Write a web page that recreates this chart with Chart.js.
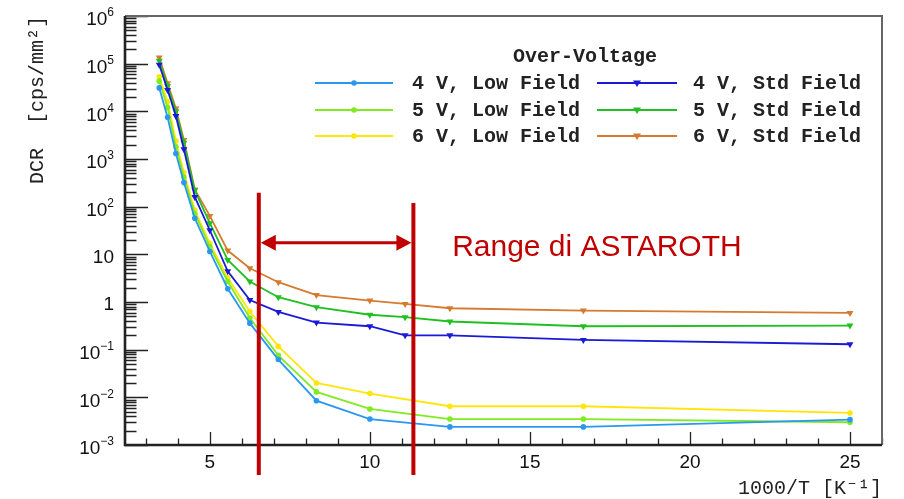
<!DOCTYPE html>
<html>
<head>
    <title>DCR vs 1000/T</title>
    <script src="https://cdn.jsdelivr.net/npm/chart.js"></script>
    <style>
        html, body { margin: 0; padding: 0; background: #fff; }
    </style>
</head>
<body>
<canvas id="dcrChart" width="904" height="499"></canvas>
<script>
// 1000/T [K^-1] of the measured points
var xStd = [3.42, 3.68, 3.94, 4.19, 4.53, 5.0, 5.56, 6.25, 7.14, 8.33, 10.0, 11.1, 12.5, 16.67, 25.0];
var xLow = [3.42, 3.68, 3.94, 4.19, 4.53, 5.0, 5.56, 6.25, 7.14, 8.33, 10.0, 12.5, 16.67, 25.0];

// DCR [cps/mm^2]
var dcr4VLow = [3.1e4, 7.5e3, 1.3e3, 320, 57, 11.5, 1.9, 0.36, 0.062, 0.0085, 0.0035, 0.0024, 0.0024, 0.0034];
var dcr5VLow = [4.3e4, 1.2e4, 1.8e3, 420, 72, 14.5, 2.7, 0.46, 0.076, 0.013, 0.0057, 0.0035, 0.0035, 0.0030];
var dcr6VLow = [5.3e4, 1.6e4, 2.4e3, 520, 85, 17, 3.2, 0.63, 0.117, 0.020, 0.012, 0.0065, 0.0065, 0.0047];
var dcr4VStd = [9.5e4, 2.8e4, 8e3, 1.6e3, 160, 32, 4.4, 1.1, 0.62, 0.37, 0.31, 0.20, 0.20, 0.16, 0.13];
var dcr5VStd = [1.15e5, 3.4e4, 1.0e4, 2.2e3, 220, 45, 7.6, 2.7, 1.26, 0.78, 0.54, 0.48, 0.39, 0.31, 0.32];
var dcr6VStd = [1.35e5, 3.9e4, 1.15e4, 2.5e3, 230, 64, 12, 5.1, 2.6, 1.4, 1.07, 0.91, 0.74, 0.66, 0.59];

var seriesLabels = ['4 V, Low Field', '5 V, Low Field', '6 V, Low Field',
                    '4 V, Std Field', '5 V, Std Field', '6 V, Std Field'];
var legendTitle = 'Over-Voltage';

var xTickValues = [5, 10, 15, 20, 25];
var yTickValues = [1e-3, 1e-2, 1e-1, 1, 10, 1e2, 1e3, 1e4, 1e5, 1e6];
var yTickBase = ['10', '10', '10', '1', '10', '10', '10', '10', '10', '10'];
var yTickSup = ['\u22123', '\u22122', '\u22121', '', '', '2', '3', '4', '5', '6'];

// ASTAROTH range annotation (in data units)
var rangeBounds = [6.53, 11.36];
var rangeTops = [195, 120];
var arrowLevel = 17.4;
var rangeLabel = 'Range di ASTAROTH';
var rangeLabelX = 12.57;

function toPoints(xs, ys) {
    return ys.map(function(v, i) { return {x: xs[i], y: v}; });
}

function makeSet(label, xs, ys, color, std) {
    return {
        label: label,
        data: toPoints(xs, ys),
        showLine: true,
        borderColor: color,
        backgroundColor: color,
        borderWidth: 1.8,
        pointStyle: std ? 'triangle' : 'circle',
        rotation: std ? 180 : 0,
        pointRadius: std ? 4 : 2.8,
        pointBorderWidth: 0,
        tension: 0
    };
}

var datasets = [
    makeSet(seriesLabels[0], xLow, dcr4VLow, '#2a98f0', false),
    makeSet(seriesLabels[1], xLow, dcr5VLow, '#80ea22', false),
    makeSet(seriesLabels[2], xLow, dcr6VLow, '#ffe60a', false),
    makeSet(seriesLabels[3], xStd, dcr4VStd, '#1a1ad6', true),
    makeSet(seriesLabels[4], xStd, dcr5VStd, '#20c020', true),
    makeSet(seriesLabels[5], xStd, dcr6VStd, '#d57a30', true)
];

// ROOT-like frame with inward ticks
var rootFrame = {
    id: 'rootFrame',
    beforeDatasetsDraw: function(chart) {
        var ctx = chart.ctx, a = chart.chartArea;
        var xs = chart.scales.x, ys = chart.scales.y;
        ctx.save();
        ctx.strokeStyle = '#222';
        ctx.lineWidth = 1.3;
        ctx.beginPath();
        for (var e = -3; e <= 6; e++) {
            for (var m = 1; m < 10; m++) {
                if (e === 6 && m > 1) break;
                var py = Math.round(ys.getPixelForValue(m * Math.pow(10, e))) + 0.5;
                var len = m === 1 ? 23 : 11.5;
                ctx.moveTo(a.left, py);
                ctx.lineTo(a.left + len, py);
            }
        }
        for (var v = 3; v <= 26; v++) {
            var px = Math.round(xs.getPixelForValue(v)) + 0.5;
            var l = v % 5 === 0 ? 13 : 6.5;
            ctx.moveTo(px, a.bottom);
            ctx.lineTo(px, a.bottom - l);
        }
        ctx.stroke();
        // top and right frame
        ctx.strokeStyle = '#666';
        ctx.lineWidth = 2;
        ctx.beginPath();
        ctx.moveTo(a.left, a.top);
        ctx.lineTo(a.right, a.top);
        ctx.lineTo(a.right, a.bottom);
        ctx.stroke();
        // left and bottom axis
        ctx.strokeStyle = '#222';
        ctx.lineWidth = 2.6;
        ctx.beginPath();
        ctx.moveTo(a.left, a.top);
        ctx.lineTo(a.left, a.bottom);
        ctx.lineTo(a.right, a.bottom);
        ctx.stroke();
        ctx.restore();
    },
    afterDraw: function(chart) {
        // decade labels with superscript exponent
        var ctx = chart.ctx, a = chart.chartArea, ys = chart.scales.y;
        ctx.save();
        ctx.fillStyle = '#111';
        ctx.textBaseline = 'middle';
        ctx.textAlign = 'right';
        var right = a.left - 11;
        yTickValues.forEach(function(v, i) {
            var py = ys.getPixelForValue(v);
            var sup = yTickSup[i];
            var supW = 0;
            if (sup) {
                ctx.font = '12px "Liberation Sans", Arial, sans-serif';
                supW = ctx.measureText(sup).width;
                ctx.fillText(sup, right, py - 3);
                ctx.font = '19px "Liberation Sans", Arial, sans-serif';
                ctx.fillText(yTickBase[i], right - supW, py + 4);
            } else {
                ctx.font = '19px "Liberation Sans", Arial, sans-serif';
                ctx.fillText(yTickBase[i], right, py + 3);
            }
        });
        ctx.restore();
    }
};

function drawMarker(ctx, x, y, std, color) {
    ctx.fillStyle = color;
    ctx.beginPath();
    if (std) {
        ctx.moveTo(x - 4, y - 2.5);
        ctx.lineTo(x + 4, y - 2.5);
        ctx.lineTo(x, y + 4);
        ctx.closePath();
    } else {
        ctx.arc(x, y, 2.8, 0, Math.PI * 2);
    }
    ctx.fill();
}

// two-column legend with header, inside the frame
var rootLegend = {
    id: 'rootLegend',
    afterDraw: function(chart) {
        var ctx = chart.ctx;
        var cols = [{lineFrom: 315, lineTo: 393, text: 412}, {lineFrom: 597, lineTo: 677, text: 693}];
        var rows = [83, 110, 136];
        ctx.save();
        ctx.font = 'bold 20px "Liberation Mono", "Courier New", monospace';
        ctx.fillStyle = '#222';
        ctx.textBaseline = 'middle';
        ctx.textAlign = 'center';
        ctx.fillText(legendTitle, 585, 57);
        ctx.textAlign = 'left';
        chart.data.datasets.forEach(function(ds, i) {
            var c = cols[i < 3 ? 0 : 1], y = rows[i % 3];
            ctx.strokeStyle = ds.borderColor;
            ctx.lineWidth = 2;
            ctx.beginPath();
            ctx.moveTo(c.lineFrom, y);
            ctx.lineTo(c.lineTo, y);
            ctx.stroke();
            drawMarker(ctx, (c.lineFrom + c.lineTo) / 2, y, i >= 3, ds.borderColor);
            ctx.fillStyle = '#222';
            ctx.fillText(ds.label, c.text, y + 1);
        });
        ctx.restore();
    }
};

// red range markers for ASTAROTH
var rangeMarks = {
    id: 'rangeMarks',
    afterDraw: function(chart) {
        var ctx = chart.ctx, a = chart.chartArea;
        var xs = chart.scales.x, ys = chart.scales.y;
        var red = '#c00000';
        var x1 = xs.getPixelForValue(rangeBounds[0]);
        var x2 = xs.getPixelForValue(rangeBounds[1]);
        var bottom = a.bottom + 30;
        var ay = ys.getPixelForValue(arrowLevel);
        ctx.save();
        ctx.strokeStyle = red;
        ctx.fillStyle = red;
        ctx.lineWidth = 4;
        ctx.beginPath();
        ctx.moveTo(x1, ys.getPixelForValue(rangeTops[0]));
        ctx.lineTo(x1, bottom);
        ctx.moveTo(x2, ys.getPixelForValue(rangeTops[1]));
        ctx.lineTo(x2, bottom);
        ctx.stroke();
        ctx.lineWidth = 3;
        ctx.beginPath();
        ctx.moveTo(x1 + 12, ay);
        ctx.lineTo(x2 - 12, ay);
        ctx.stroke();
        ctx.beginPath();
        ctx.moveTo(x1 + 2, ay);
        ctx.lineTo(x1 + 17, ay - 8);
        ctx.lineTo(x1 + 17, ay + 8);
        ctx.closePath();
        ctx.moveTo(x2 - 2, ay);
        ctx.lineTo(x2 - 17, ay - 8);
        ctx.lineTo(x2 - 17, ay + 8);
        ctx.closePath();
        ctx.fill();
        ctx.font = '30px "Liberation Sans", Arial, sans-serif';
        ctx.textAlign = 'left';
        ctx.textBaseline = 'middle';
        ctx.fillText(rangeLabel, xs.getPixelForValue(rangeLabelX), ay + 5);
        ctx.restore();
    }
};

var ctx = document.getElementById('dcrChart').getContext('2d');
var dcrChart = new Chart(ctx, {
    type: 'scatter',
    data: { datasets: datasets },
    options: {
        responsive: false,
        animation: false,
        layout: { padding: { left: 0, right: 22, top: 16, bottom: 0 } },
        plugins: {
            legend: { display: false },
            tooltip: { enabled: false }
        },
        scales: {
            x: {
                type: 'linear',
                min: 2.35,
                max: 26,
                afterBuildTicks: function(s) {
                    s.ticks = xTickValues.map(function(v) { return {value: v}; });
                },
                afterFit: function(s) { s.height = 54; },
                grid: { display: false, drawTicks: false },
                border: { display: false },
                ticks: {
                    color: '#111',
                    padding: 6,
                    maxRotation: 0,
                    font: { family: '"Liberation Sans", Arial, sans-serif', size: 19 }
                },
                title: {
                    display: true,
                    text: '1000/T [K\u207B\u00B9]',
                    align: 'end',
                    color: '#222',
                    padding: { top: 0, bottom: 0 },
                    font: { family: '"Liberation Mono", "Courier New", monospace', size: 20, lineHeight: 1 }
                }
            },
            y: {
                type: 'logarithmic',
                min: 1e-3,
                max: 1e6,
                afterBuildTicks: function(s) {
                    s.ticks = yTickValues.map(function(v) { return {value: v}; });
                },
                afterFit: function(s) { s.width = 125; },
                grid: { display: false, drawTicks: false },
                border: { display: false },
                ticks: { display: false },
                title: {
                    display: true,
                    text: 'DCR  [cps/mm\u00B2]',
                    align: 'end',
                    color: '#222',
                    padding: { top: 28, bottom: 0 },
                    font: { family: '"Liberation Mono", "Courier New", monospace', size: 20, lineHeight: 1 }
                }
            }
        }
    },
    plugins: [rootFrame, rootLegend, rangeMarks]
});
</script>
</body>
</html>
